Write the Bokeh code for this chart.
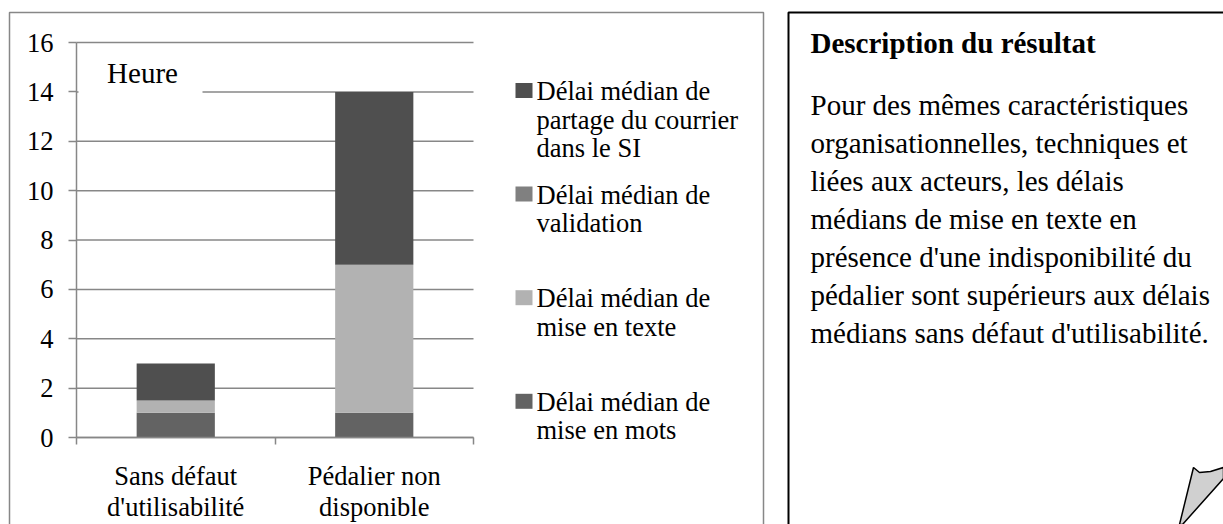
from bokeh.plotting import figure
from bokeh.models import ColumnDataSource, Range1d, FixedTicker, LinearAxis
from bokeh.core.properties import value
from bokeh.embed import file_html
from bokeh.resources import INLINE

# ---------------- data ----------------
categories = ["Sans défaut\nd'utilisabilité", "Pédalier non\ndisponible"]
series = ["Délai médian de\nmise en mots",
          "Délai médian de\nmise en texte",
          "Délai médian de\nvalidation",
          "Délai médian de\npartage du courrier\ndans le SI"]
mise_en_mots = [1.0, 1.0]
mise_en_texte = [0.5, 6.0]
validation = [0.0, 0.0]
partage = [1.5, 7.0]
colors = ["#636363", "#b2b2b2", "#808080", "#4f4f4f"]
y_ticks = [0, 2, 4, 6, 8, 10, 12, 14, 16]
unit_label = "Heure"
panel_title = "Description du résultat"
panel_lines = ["Pour des mêmes caractéristiques",
               "organisationnelles, techniques et",
               "liées aux acteurs, les délais",
               "médians de mise en texte en",
               "présence d'une indisponibilité du",
               "pédalier sont supérieurs aux délais",
               "médians sans défaut d'utilisabilité."]

SERIF = "Liberation Serif"
GRID = "#878787"
W, H = 1223, 524

# plot-area geometry on the page (pixels)
PX_LEFT, PX_RIGHT, PX_ZERO, PX_TOP = 76, 473, 437, 42
n = len(categories)
ymax = y_ticks[-1]
kx = (PX_RIGHT - PX_LEFT) / n
ky = (PX_ZERO - PX_TOP) / ymax

p = figure(width=W, height=H, output_backend="svg", toolbar_location=None,
           x_range=Range1d(-PX_LEFT / kx, (W - PX_LEFT) / kx),
           y_range=Range1d((PX_ZERO - H) / ky, PX_ZERO / ky),
           min_border=0, x_axis_type=None, y_axis_type=None)
p.outline_line_color = None
p.background_fill_color = "white"
p.border_fill_color = "white"
p.extra_x_ranges = {"px": Range1d(0, W)}
p.extra_y_ranges = {"px": Range1d(H, 0)}

# chart outer border
p.quad(left=[9], right=[763], top=[12], bottom=[H + 40], x_range_name="px",
       y_range_name="px", fill_color=None, line_color=GRID, line_width=1.5)

# horizontal gridlines across the category extent
p.segment(x0=[0] * len(y_ticks), x1=[n] * len(y_ticks), y0=y_ticks, y1=y_ticks,
          line_color=GRID, line_width=1.5, level="underlay")

# stacked bars
xs = [i + 0.5 for i in range(n)]
keys = ["mots", "texte", "validation", "partage"]
src = ColumnDataSource(dict(x=xs, mots=mise_en_mots, texte=mise_en_texte,
                            validation=validation, partage=partage))
p.vbar_stack(keys, x="x", width=0.394, color=colors, line_color=None, source=src)

# y axis
yax = LinearAxis(ticker=FixedTicker(ticks=y_ticks, minor_ticks=[]),
                 fixed_location=0, bounds=(0, ymax))
yax.axis_line_color = GRID
yax.axis_line_width = 1.5
yax.major_tick_line_color = GRID
yax.major_tick_line_width = 1.5
yax.major_tick_out = 8
yax.major_tick_in = 0
yax.minor_tick_line_color = None
yax.major_label_text_font = SERIF
yax.major_label_text_font_size = "26.5px"
yax.major_label_text_color = "black"
yax.major_label_standoff = 15
p.add_layout(yax, "left")

# x axis: ticks at category boundaries, labels at category centers
xax = LinearAxis(ticker=FixedTicker(ticks=xs, minor_ticks=list(range(n + 1))),
                 fixed_location=0, bounds=(0, n))
xax.major_label_overrides = {x: c for x, c in zip(xs, categories)}
xax.axis_line_color = GRID
xax.axis_line_width = 1.5
xax.major_tick_line_color = None
xax.major_tick_out = 7
xax.minor_tick_line_color = GRID
xax.minor_tick_line_width = 1.5
xax.minor_tick_out = 7
xax.minor_tick_in = 0
xax.major_label_text_font = SERIF
xax.major_label_text_font_size = "26.5px"
xax.major_label_text_color = "black"
xax.major_label_text_line_height = 1.05
xax.major_label_standoff = 16
p.add_layout(xax, "below")

# unit label on white backing
p.quad(left=[78], right=[202], top=[55], bottom=[93], x_range_name="px",
       y_range_name="px", fill_color="white", line_color=None)
p.text(x=[142], y=[72], text=[unit_label], x_range_name="px", y_range_name="px",
       text_font=value(SERIF), text_font_size="29px", text_align="center",
       text_baseline="middle", text_color="black")

# legend (top item first = last series)
lg_x, lg_y, lg_t = [], [], []
sq_top, sq_bot, sq_col = [], [], []
for i, (name, col) in enumerate(zip(series[::-1], colors[::-1])):
    cy = 90.5 + 103.6 * i
    sq_top.append(cy - 8)
    sq_bot.append(cy + 7)
    sq_col.append(col)
    for j, line in enumerate(name.split("\n")):
        lg_x.append(536)
        lg_y.append(cy + 28.5 * j)
        lg_t.append(line)
p.quad(left=[515] * len(sq_col), right=[532] * len(sq_col), top=sq_top, bottom=sq_bot,
       x_range_name="px", y_range_name="px", fill_color=sq_col, line_color=None)
p.text(x=lg_x, y=lg_y, text=lg_t, x_range_name="px", y_range_name="px",
       text_font=value(SERIF), text_font_size="26.5px", text_align="left",
       text_baseline="middle", text_color="black")

# ---------------- description panel ----------------
p.quad(left=[788], right=[W + 40], top=[12], bottom=[H + 40], x_range_name="px",
       y_range_name="px", fill_color=None, line_color="black", line_width=2)
p.text(x=[810], y=[42], text=[panel_title], x_range_name="px", y_range_name="px",
       text_font=value(SERIF), text_font_style="bold", text_font_size="29px",
       text_baseline="middle", text_color="black")
p.text(x=[810] * len(panel_lines), y=[104 + 38 * i for i in range(len(panel_lines))],
       text=panel_lines, x_range_name="px", y_range_name="px",
       text_font=value(SERIF), text_font_size="29px",
       text_baseline="middle", text_color="black")
# folded corner
p.patch(x=[1193, 1199, 1210, 1223, 1223, 1182, 1179],
        y=[467, 472, 471, 467, 478, 524, 524], x_range_name="px", y_range_name="px",
        fill_color="#d0d0d0", line_color="black", line_width=1.5)

open("out.html", "w").write(file_html(p, INLINE))
